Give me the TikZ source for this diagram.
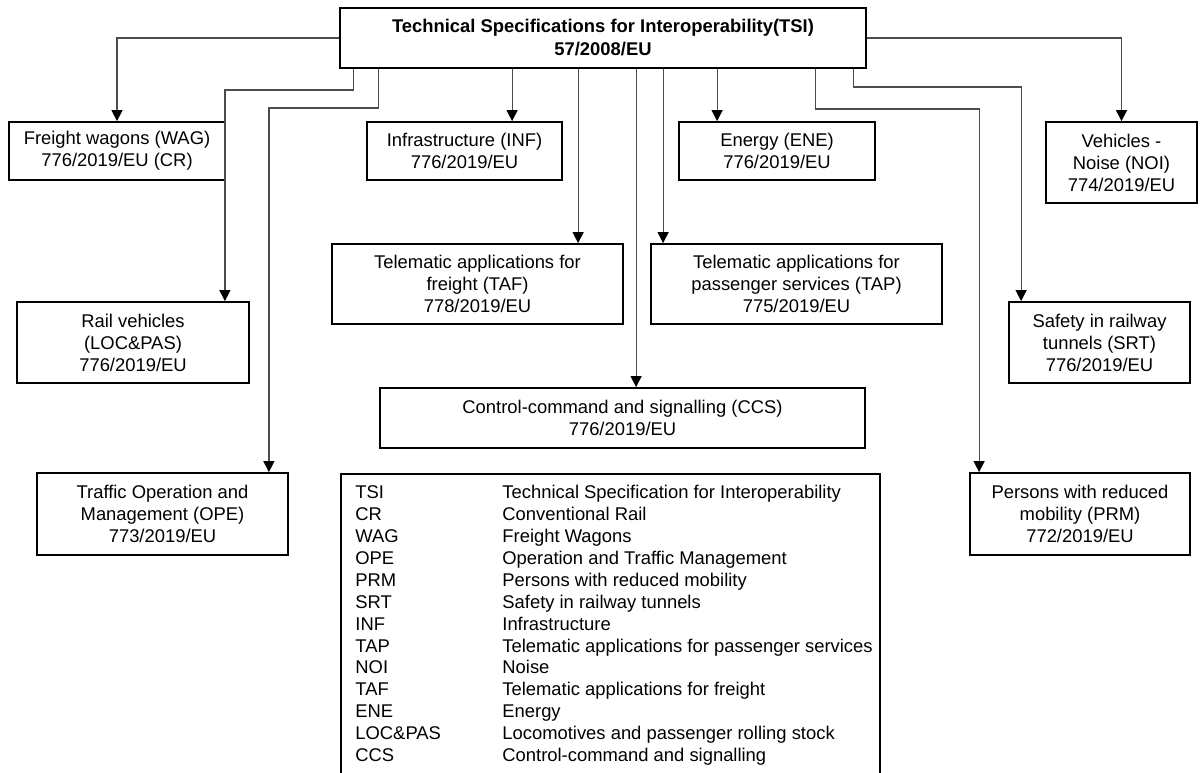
\documentclass[tikz,border=0pt]{standalone}
\usepackage{fontspec}
\setmainfont{Liberation Sans}
\usetikzlibrary{arrows.meta,positioning,calc}

\begin{document}
\begin{tikzpicture}[x=0.5pt, y=-0.5pt, font=\fontsize{9.2}{11}\selectfont]
  \tikzstyle{tsibox}=[draw, line width=0.9pt, align=center, inner sep=0pt]
  \tikzstyle{link}=[draw=black!70, line width=0.6pt, -{Triangle[length=5.5pt, width=5.5pt, color=black]}]
  \clip (0,0) rectangle (1200,772);
  % main directive
  \node[tsibox, minimum width=263pt, minimum height=30pt, font=\fontsize{9.2}{11.5}\selectfont\bfseries] (tsi) at (603,38) {Technical Specifications for Interoperability(TSI)\\57/2008/EU};
  % subsystem TSIs
  \node[tsibox, minimum width=108pt, minimum height=29pt] (wag) at (117,151) {Freight wagons (WAG)\\776/2019/EU (CR)};
  \node[tsibox, minimum width=97.5pt, minimum height=29pt] (inf) at (464.5,151) {Infrastructure (INF)\\776/2019/EU};
  \node[tsibox, minimum width=98pt, minimum height=29pt] (ene) at (777,151) {Energy (ENE)\\776/2019/EU};
  \node[tsibox, minimum width=75.5pt, minimum height=40.5pt] (noi) at (1121.5,162.5) {Vehicles -\\Noise (NOI)\\774/2019/EU};
  \node[tsibox, minimum width=145.5pt, minimum height=40pt] (taf) at (477.5,284) {Telematic applications for\\freight (TAF)\\778/2019/EU};
  \node[tsibox, minimum width=145.5pt, minimum height=40pt] (tap) at (796.5,284) {Telematic applications for\\passenger services (TAP)\\775/2019/EU};
  \node[tsibox, minimum width=116pt, minimum height=40.5pt] (loc) at (133,342.5) {Rail vehicles\\(LOC\&PAS)\\776/2019/EU};
  \node[tsibox, minimum width=90.5pt, minimum height=40.5pt] (srt) at (1099.5,342.5) {Safety in railway\\tunnels (SRT)\\776/2019/EU};
  \node[tsibox, minimum width=242.5pt, minimum height=30pt] (ccs) at (622.5,418) {Control-command and signalling (CCS)\\776/2019/EU};
  \node[tsibox, minimum width=125.5pt, minimum height=41pt] (ope) at (162.5,514) {Traffic Operation and\\Management (OPE)\\773/2019/EU};
  \node[tsibox, minimum width=110pt, minimum height=41pt] (prm) at (1080,514) {Persons with reduced\\mobility (PRM)\\772/2019/EU};
  % abbreviations
  \node[draw, line width=0.9pt, anchor=north west, minimum width=269.5pt, minimum height=160pt] (leg) at (340,473) {};
  \node[anchor=north west, inner sep=0pt] (legtab) at ($(leg.north west)+(15,10)$) {%
    \fontsize{9.2}{10.95}\selectfont
    \begin{tabular}{@{}p{73.5pt}@{}l@{}}
      TSI & Technical Specification for Interoperability\\
      CR & Conventional Rail\\
      WAG & Freight Wagons\\
      OPE & Operation and Traffic Management\\
      PRM & Persons with reduced mobility\\
      SRT & Safety in railway tunnels\\
      INF & Infrastructure\\
      TAP & Telematic applications for passenger services\\
      NOI & Noise\\
      TAF & Telematic applications for freight\\
      ENE & Energy\\
      LOC\&PAS & Locomotives and passenger rolling stock\\
      CCS & Control-command and signalling
    \end{tabular}};
  % drop points on the lower edge of the main box
  \coordinate (dLOC) at ($(tsi.south west)+(14,0)$);
  \coordinate (dOPE) at ($(tsi.south west)+(39,0)$);
  \coordinate (dINF) at ($(tsi.south west)+(173,0)$);
  \coordinate (dTAF) at ($(tsi.south west)+(239,0)$);
  \coordinate (dCCS) at ($(tsi.south west)+(297,0)$);
  \coordinate (dTAP) at ($(tsi.south west)+(324,0)$);
  \coordinate (dENE) at ($(tsi.south west)+(378,0)$);
  \coordinate (dPRM) at ($(tsi.south west)+(476,0)$);
  \coordinate (dSRT) at ($(tsi.south west)+(514,0)$);
  % connectors
  \draw[link] (tsi.west) -| (wag.north);
  \draw[link] (tsi.east) -| (noi.north);
  \draw[link] (dLOC) -- ++(0,21) -| ($(loc.north east)+(-25,0)$);
  \draw[link] (dOPE) -- ++(0,39) -| ($(ope.north east)+(-20,0)$);
  \draw[link] (dINF) -- (dINF |- inf.north);
  \draw[link] (dTAF) -- (dTAF |- taf.north);
  \draw[link] (dCCS) -- (dCCS |- ccs.north);
  \draw[link] (dTAP) -- (dTAP |- tap.north);
  \draw[link] (dENE) -- (dENE |- ene.north);
  \draw[link] (dPRM) -- ++(0,40) -| ($(prm.north west)+(10,0)$);
  \draw[link] (dSRT) -- ++(0,18) -| ($(srt.north west)+(13,0)$);
\end{tikzpicture}
\end{document}
